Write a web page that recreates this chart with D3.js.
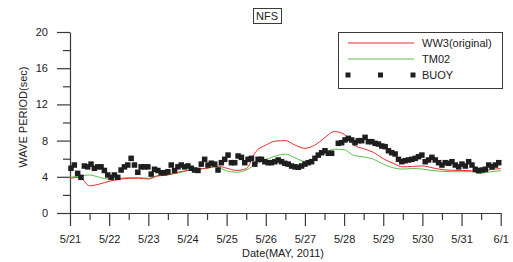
<!DOCTYPE html>
<html><head><meta charset="utf-8">
<script src="https://cdn.jsdelivr.net/npm/d3@7/dist/d3.min.js"></script>
<style>
html,body{margin:0;padding:0;background:#fff;}
svg{display:block;font-family:"Liberation Sans",Arial,sans-serif;}
</style></head>
<body>
<svg id="c" width="513" height="262"></svg>
<script>
// ---- data ----
const title = "NFS";
const dayLabels = ["5/21","5/22","5/23","5/24","5/25","5/26","5/27","5/28","5/29","5/30","5/31","6/1"];
const yTicks = [0,4,8,12,16,20];
// model series every 6 hours starting 2011-05-21 00:00
const modelHours = [0,6,12,18,24,30,36,42,48,54,60,66,72,78,84,90,96,102,108,114,120,126,132,138,144,150,156,162,168,174,180,186,192,198,204,210,216,222,228,234,240,246,252,258,264];
const ww3 = [3.83,3.94,3.0,3.2,3.5,3.72,3.83,3.85,3.75,4.1,4.2,4.5,4.7,4.85,4.95,5.2,4.95,4.7,4.9,6.8,7.5,7.95,8.0,7.5,7.15,7.5,8.3,9.0,8.7,7.5,7.1,6.7,6.0,5.5,5.1,5.15,5.2,5.0,4.8,4.72,4.7,4.67,4.6,4.8,4.9];
const tm02 = [3.94,4.09,4.2,3.94,3.75,3.83,3.9,3.9,3.85,4.15,4.25,4.4,4.67,4.85,4.94,5.1,4.65,4.5,4.75,5.4,5.9,6.3,6.5,6.1,5.7,6.0,6.6,7.05,7.0,6.35,6.2,5.95,5.4,5.0,4.85,4.92,4.85,4.7,4.6,4.56,4.56,4.56,4.4,4.56,4.67];
// buoy observations, evenly sampled between first and last hour
const buoyFirstHour = 0.6, buoyLastHour = 262.8;
const buoy = [4.94,5.3,4.38,3.94,5.19,5.1,5.4,4.94,5.1,5.1,4.7,4.2,3.94,4.2,3.94,4.75,5.1,5.3,6.04,5.3,4.5,5.1,5.1,5.1,4.3,4.83,4.7,4.45,4.45,4.56,5.3,4.7,5.1,5.3,5.1,5.2,4.94,4.75,4.7,5.4,5.93,5.3,5.5,5.4,4.75,5.56,5.93,6.4,5.56,5.56,6.3,6.15,5.56,5.93,6.04,5.4,5.93,
 5.93,5.67,5.56,5.56,5.67,5.86,5.67,5.49,5.4,5.19,5.1,5.05,5.19,5.4,5.56,5.67,6.04,6.4,6.66,6.88,6.6,6.6,null,7.7,7.77,8.07,8.25,8.07,7.77,7.99,7.99,8.36,7.88,7.88,7.7,7.62,7.4,7.33,6.88,6.66,6.52,5.93,5.67,5.78,5.86,5.93,6.04,6.22,6.4,5.67,5.86,6.15,5.86,5.56,5.3,5.56,5.49,5.67,5.3,5.1,5.4,5.19,5.67,5.3,4.83,4.67,4.75,4.83,5.3,5.1,5.3,5.56];
const seriesNames = ["WW3(original)","TM02","BUOY"];
const colors = {ww3:"#f0282d", tm02:"#5cbf4a", buoy:"#1e1e1e"};

// ---- drawing ----
const svg = d3.select("#c");
const t0 = Date.UTC(2011,4,21);
const hr = h => new Date(t0 + h*3600e3);
const x = d3.scaleUtc().domain([hr(0), hr(264)]).range([70, 500.7]);
const y = d3.scaleLinear().domain([0,20]).range([213, 32]);
const axisColor = "#3a3a3a";

const days = d3.range(12).map(i => hr(i*24));
const halfDays = d3.range(11).map(i => hr(i*24+12));

// x axis
const gx = svg.append("g").attr("transform","translate(0,213)")
  .call(d3.axisBottom(x).tickValues(days).tickSize(13).tickSizeOuter(0).tickPadding(9)
        .tickFormat((d,i)=>dayLabels[i]));
gx.append("g").call(d3.axisBottom(x).tickValues(halfDays).tickSize(7).tickFormat(""))
  .select(".domain").remove();
// y axis
const gy = svg.append("g").attr("transform","translate(70,0)")
  .call(d3.axisLeft(y).tickValues(yTicks).tickSize(13).tickSizeOuter(0).tickPadding(9));
gy.append("g").call(d3.axisLeft(y).tickValues([2,6,10,14,18]).tickSize(7).tickFormat(""))
  .select(".domain").remove();
svg.selectAll(".domain, .tick line").attr("stroke", axisColor).attr("stroke-width",1.2);
svg.selectAll(".tick text").attr("font-size",11).attr("fill","#222")
  .attr("font-family",'"Liberation Sans",Arial,sans-serif');

// axis titles
svg.append("text").attr("x",283).attr("y",257).attr("text-anchor","middle")
  .attr("font-size",11).attr("fill","#222").text("Date(MAY, 2011)");
svg.append("text").attr("transform","translate(27,117) rotate(-90)").attr("text-anchor","middle")
  .attr("font-size",11).attr("fill","#222").text("WAVE PERIOD(sec)");

// lines
const line = vals => d3.line().curve(d3.curveMonotoneX)
  .x((d,i)=>x(hr(modelHours[i]))).y(d=>y(d))(vals);
svg.append("path").attr("d", line(tm02)).attr("fill","none").attr("stroke",colors.tm02).attr("stroke-width",1);
svg.append("path").attr("d", line(ww3)).attr("fill","none").attr("stroke",colors.ww3).attr("stroke-width",1);

// buoy squares
const step = (buoyLastHour - buoyFirstHour)/(buoy.length-1);
const bd = buoy.map((v,i)=>({h: buoyFirstHour + i*step, v})).filter(d=>d.v!=null);
const sq = 5.5;
svg.append("g").selectAll("rect").data(bd).join("rect")
  .attr("x", d=>x(hr(d.h))-sq/2).attr("y", d=>y(d.v)-sq/2)
  .attr("width", sq).attr("height", sq).attr("fill", colors.buoy);

// title box
const tt = svg.append("text").attr("x",267).attr("y",20).attr("text-anchor","middle")
  .attr("font-size",11).attr("fill","#222").text(title);
svg.append("rect").attr("x",253.5).attr("y",8.5).attr("width",28).attr("height",15)
  .attr("fill","none").attr("stroke",axisColor).attr("stroke-width",1);

// legend
const lg = svg.append("g");
lg.append("rect").attr("x",338.5).attr("y",32.5).attr("width",164).attr("height",56)
  .attr("fill","#fff").attr("stroke",axisColor).attr("stroke-width",1);
const rows = [43, 59, 75];
lg.append("line").attr("x1",348).attr("x2",414).attr("y1",rows[0]).attr("y2",rows[0])
  .attr("stroke",colors.ww3).attr("stroke-width",1);
lg.append("line").attr("x1",348).attr("x2",414).attr("y1",rows[1]).attr("y2",rows[1])
  .attr("stroke",colors.tm02).attr("stroke-width",1);
[348,380.5,413].forEach(cx=>lg.append("rect").attr("x",cx-2.5).attr("y",rows[2]-2.5)
  .attr("width",5).attr("height",5).attr("fill",colors.buoy));
seriesNames.forEach((n,i)=>lg.append("text").attr("x",422).attr("y",rows[i]+4)
  .attr("font-size",11).attr("fill","#222").text(n));
</script>
</body></html>
